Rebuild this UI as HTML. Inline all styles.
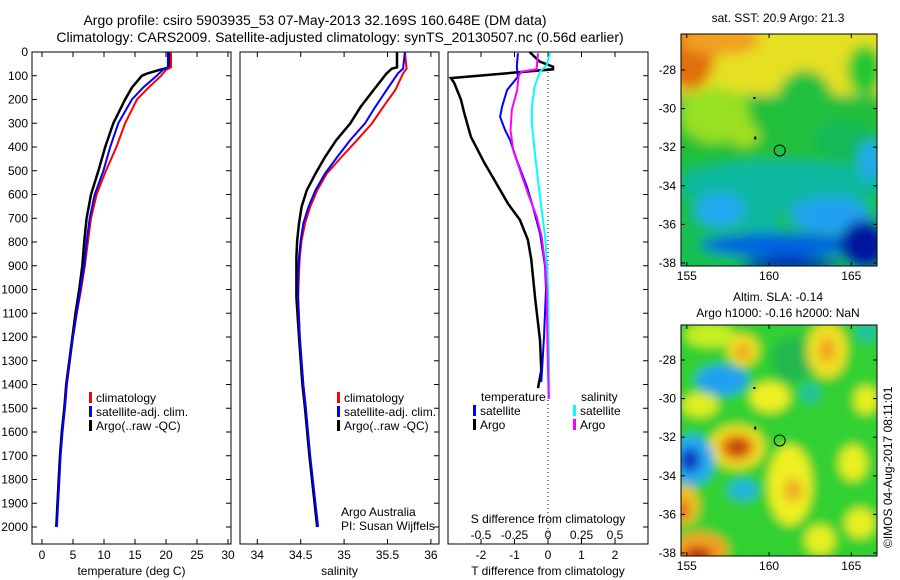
<!DOCTYPE html>
<html><head><meta charset="utf-8"><style>
html,body{margin:0;padding:0;background:#fff}
svg{display:block;font-family:"Liberation Sans",sans-serif}
</style></head><body>
<svg id="fig" width="900" height="580" viewBox="0 0 900 580">
<defs>
<filter id="blur1" x="-20%" y="-20%" width="140%" height="140%"><feGaussianBlur stdDeviation="6"/></filter>
<filter id="blur2" x="-20%" y="-20%" width="140%" height="140%"><feGaussianBlur stdDeviation="5"/></filter>
<clipPath id="clipM1"><rect x="681" y="34" width="196" height="232"/></clipPath>
<clipPath id="clipM2"><rect x="681" y="325" width="196" height="231"/></clipPath>
</defs>
<text x="315" y="25" text-anchor="middle" font-size="14">Argo profile: csiro 5903935_53 07-May-2013 32.169S 160.648E (DM data)</text>
<text x="340" y="42" text-anchor="middle" font-size="14">Climatology: CARS2009. Satellite-adjusted climatology: synTS_20130507.nc (0.56d earlier)</text>

<!-- SST map -->
<g>
<g clip-path="url(#clipM1)"><g filter="url(#blur1)">
<rect x="670" y="20" width="220" height="260" fill="#18c050"/>
<rect x="670" y="100" width="220" height="60" fill="#20c038"/>
<rect x="670" y="20" width="220" height="75" fill="#e6e020"/>
<ellipse cx="690" cy="50" rx="25" ry="40" fill="#e07010"/>
<ellipse cx="720" cy="40" rx="40" ry="15" fill="#f0a020"/>
<ellipse cx="715" cy="115" rx="35" ry="28" fill="#98e020"/>
<ellipse cx="745" cy="135" rx="15" ry="12" fill="#a0e020"/>
<ellipse cx="805" cy="110" rx="30" ry="40" fill="#20c040"/>
<ellipse cx="865" cy="70" rx="18" ry="25" fill="#20c830"/>
<ellipse cx="845" cy="140" rx="30" ry="20" fill="#18b858"/>
<ellipse cx="780" cy="185" rx="100" ry="25" fill="#10b8a0"/>
<ellipse cx="870" cy="160" rx="12" ry="20" fill="#20a8f0"/>
<ellipse cx="720" cy="210" rx="25" ry="18" fill="#20a8f0"/>
<ellipse cx="830" cy="215" rx="40" ry="18" fill="#20a0f0"/>
<ellipse cx="760" cy="220" rx="20" ry="15" fill="#10b8a0"/>
<ellipse cx="780" cy="245" rx="80" ry="12" fill="#0060e0"/>
<ellipse cx="865" cy="245" rx="25" ry="25" fill="#0018a0"/>
<ellipse cx="790" cy="265" rx="50" ry="8" fill="#0020a8"/>
</g></g>
<rect x="681" y="34" width="196" height="232" fill="none" stroke="#000"/>
</g>
<text x="778" y="22" text-anchor="middle" font-size="12">sat. SST: 20.9 Argo: 21.3</text>

<!-- SLA map -->
<g>
<g clip-path="url(#clipM2)"><g filter="url(#blur2)">
<rect x="670" y="310" width="220" height="260" fill="#30d030"/>
<ellipse cx="710" cy="335" rx="25" ry="12" fill="#c8f020"/>
<ellipse cx="743" cy="350" rx="16" ry="16" fill="#f0e020"/>
<ellipse cx="743" cy="352" rx="8" ry="8" fill="#f0a020"/>
<ellipse cx="722" cy="380" rx="26" ry="15" fill="#20a0f0"/>
<ellipse cx="793" cy="360" rx="22" ry="22" fill="#20b850"/>
<ellipse cx="810" cy="393" rx="10" ry="10" fill="#20c0a0"/>
<ellipse cx="867" cy="332" rx="12" ry="10" fill="#20c0a0"/>
<ellipse cx="770" cy="397" rx="20" ry="15" fill="#f0f020"/>
<ellipse cx="827" cy="350" rx="20" ry="28" fill="#f0e020"/>
<ellipse cx="827" cy="350" rx="8" ry="12" fill="#f0a020"/>
<ellipse cx="700" cy="405" rx="18" ry="12" fill="#e0f020"/>
<ellipse cx="737" cy="447" rx="28" ry="22" fill="#f0e020"/>
<ellipse cx="737" cy="447" rx="17" ry="13" fill="#e07010"/>
<ellipse cx="738" cy="448" rx="8" ry="7" fill="#c03010"/>
<ellipse cx="692" cy="460" rx="22" ry="25" fill="#20a8f0"/>
<ellipse cx="690" cy="460" rx="10" ry="12" fill="#1030c0"/>
<ellipse cx="743" cy="490" rx="15" ry="10" fill="#20b0e0"/>
<ellipse cx="790" cy="485" rx="22" ry="40" fill="#f0f020"/>
<ellipse cx="793" cy="490" rx="10" ry="12" fill="#f0b020"/>
<ellipse cx="853" cy="463" rx="14" ry="18" fill="#e8f020"/>
<ellipse cx="866" cy="400" rx="12" ry="14" fill="#e8f020"/>
<ellipse cx="685" cy="505" rx="14" ry="20" fill="#f0c020"/>
<ellipse cx="683" cy="510" rx="6" ry="10" fill="#e06010"/>
<ellipse cx="700" cy="550" rx="28" ry="18" fill="#f0a020"/>
<ellipse cx="698" cy="555" rx="15" ry="8" fill="#c02010"/>
<ellipse cx="860" cy="523" rx="15" ry="15" fill="#e8f020"/>
<ellipse cx="820" cy="540" rx="15" ry="15" fill="#e8f020"/>
</g></g>
<rect x="681" y="325" width="196" height="231" fill="none" stroke="#000"/>
</g>
<text x="778" y="301" text-anchor="middle" font-size="12">Altim. SLA: -0.14</text>
<text x="778" y="317" text-anchor="middle" font-size="12">Argo h1000: -0.16 h2000: NaN</text>
<text transform="translate(892,548) rotate(-90)" font-size="12">©IMOS 04-Aug-2017 08:11:01</text>

<g id="plots"></g>
</svg>
<script>
// ---- data ----
var depthTicks = [0,100,200,300,400,500,600,700,800,900,1000,1100,1200,1300,1400,1500,1600,1700,1800,1900,2000];
var tempTicks = [0,5,10,15,20,25,30];
var salTicks = [34,34.5,35,35.5,36];
var salTickLabels = ["34","34.5","35","35.5","36"];
var dTTicks = [-2,-1,0,1,2];
var dSTicks = [-0.5,-0.25,0,0.25,0.5];
var dSTickLabels = ["-0.5","-0.25","0","0.25","0.5"];
var latTicks = [-28,-30,-32,-34,-36,-38];
var lonTicks = [155,160,165];
var argoLon = 160.648, argoLat = -32.169;

var climTDepth = [0,65,75,100,150,200,300,400,500,600,700,800,900,1000,1100,1200,1300,1400,1500];
var climT = [20.8,20.8,20.0,19.2,17.2,15.3,13.4,12.0,10.3,8.8,7.9,7.4,6.9,6.3,5.6,5.0,4.5,4.0,3.7];
var satTDepth = [0,65,75,100,150,200,300,400,500,600,700,800,900,1000,1100,1200,1300,1400,1500,1600,1700,1800,1900,2000];
var satT = [20.3,20.3,19.5,18.5,16.3,14.5,12.3,11.0,9.9,8.5,7.7,7.2,6.8,6.2,5.6,5.0,4.5,4.0,3.7,3.3,3.0,2.8,2.6,2.4];
var argoTDepth = [0,65,75,90,100,150,200,300,400,500,600,700,800,900,1000,1100,1200,1300,1400,1500,1600,1700,1800,1900,2000];
var argoT = [20.5,20.5,19.0,17.0,16.1,14.5,13.4,11.5,10.2,9.1,7.9,7.2,6.8,6.5,6.0,5.4,4.9,4.4,3.9,3.6,3.2,2.9,2.7,2.5,2.3];

var climSDepth = [0,70,90,160,231,301,371,442,512,582,652,722,793,863,933,1032,1200,1400,1500];
var climS = [35.70,35.72,35.68,35.59,35.45,35.32,35.15,34.97,34.80,34.69,34.61,34.55,34.51,34.49,34.48,34.47,34.49,34.53,34.56];
var satSDepth = [0,70,90,160,231,301,371,442,512,582,652,722,793,863,933,1032,1200,1400,1500,1700,2000];
var satS = [35.70,35.68,35.62,35.49,35.36,35.24,35.07,34.92,34.78,34.67,34.59,34.53,34.50,34.48,34.47,34.47,34.49,34.53,34.56,34.61,34.70];
var argoSDepth = [0,65,70,90,160,231,301,371,442,512,582,652,722,793,863,933,1032,1200,1400,1500,1700,2000];
var argoS = [35.61,35.61,35.55,35.49,35.34,35.19,35.07,34.91,34.78,34.67,34.57,34.51,34.48,34.46,34.45,34.45,34.45,34.48,34.52,34.55,34.60,34.69];

var dTArgoDepth = [0,40,62,73,110,130,200,258,357,467,539,637,707,791,875,1044,1213,1340,1415];
var dTArgo = [-0.55,-0.25,0.15,0.15,-2.9,-2.8,-2.6,-2.5,-2.3,-1.9,-1.6,-1.2,-0.84,-0.6,-0.5,-0.38,-0.24,-0.2,-0.3];
var dTSatDepth = [5,63,104,160,230,273,329,371,455,567,652,764,900,1000,1200,1390];
var dTSat = [-0.9,-0.93,-0.9,-1.22,-1.37,-1.43,-1.28,-1.13,-0.93,-0.63,-0.45,-0.24,-0.09,-0.06,-0.12,-0.2];
var dSArgoDepth = [5,73,83,104,160,244,329,413,497,595,693,778,900,1000,1200,1460];
var dSArgo = [-0.075,-0.085,-0.2,-0.22,-0.23,-0.27,-0.28,-0.26,-0.21,-0.15,-0.085,-0.047,-0.02,-0.01,-0.005,0.005];
var dSSatDepth = [5,55,83,146,230,301,413,540,666,778,900,1000,1400,1460];
var dSSat = [0.015,-0.01,-0.06,-0.1,-0.12,-0.12,-0.1,-0.075,-0.047,-0.022,-0.007,0,0.01,0.01];

// ---- axes ----
var NS = "http://www.w3.org/2000/svg";
var root = document.getElementById('plots');
var TOP = 52, BOT = 544;
function yD(d){ return TOP + d*0.2375; }
function xT(t){ return 42 + t*6.2; }
function xS(s){ return 257.3 + (s-34)*86.8; }
function xDT(t){ return 548 + t*33.5; }
function xDS(s){ return 548 + s*134; }
function mk(tag, attrs, parent){
  var e = document.createElementNS(NS, tag);
  for (var k in attrs) e.setAttribute(k, attrs[k]);
  (parent||root).appendChild(e); return e;
}
function txt(x,y,s,anchor,size,parent){
  var e = mk('text',{x:x,y:y,'text-anchor':anchor||'middle','font-size':size||12},parent);
  e.textContent = s; return e;
}
function line(xs, ds, fx, color, w, name){
  var p = '';
  for (var i=0;i<xs.length;i++) p += (i?'L':'M') + fx(xs[i]).toFixed(1) + ',' + yD(ds[i]).toFixed(1);
  var e = mk('path',{d:p,fill:'none',stroke:color,'stroke-width':w,'stroke-linejoin':'miter'});
  
  
  return e;
}
var panels = [[32,231],[240,439],[448,648]];
panels.forEach(function(p, i){
  var r = mk('rect',{x:p[0],y:TOP,width:p[1]-p[0],height:BOT-TOP,fill:'none',stroke:'#000','stroke-width':1});
  
  
  depthTicks.forEach(function(d){
    if (i===0) { mk('line',{x1:p[0],x2:p[0]+5,y1:yD(d),y2:yD(d),stroke:'#000'}); }
    mk('line',{x1:p[1]-5,x2:p[1],y1:yD(d),y2:yD(d),stroke:'#000'});
  });
});
depthTicks.forEach(function(d){
  var t = txt(28, yD(d)+4, String(d), 'end', 12);
  
  
});
tempTicks.forEach(function(v){
  mk('line',{x1:xT(v),x2:xT(v),y1:BOT,y2:BOT-5,stroke:'#000'});
  mk('line',{x1:xT(v),x2:xT(v),y1:TOP,y2:TOP+5,stroke:'#000'});
  var t = txt(xT(v), 559, String(v));
  
  
});
salTicks.forEach(function(v,i){
  mk('line',{x1:xS(v),x2:xS(v),y1:BOT,y2:BOT-5,stroke:'#000'});
  mk('line',{x1:xS(v),x2:xS(v),y1:TOP,y2:TOP+5,stroke:'#000'});
  var t = txt(xS(v), 559, salTickLabels[i]);
  
  
});
dTTicks.forEach(function(v){
  mk('line',{x1:xDT(v),x2:xDT(v),y1:BOT,y2:BOT-5,stroke:'#000'});
  mk('line',{x1:xDT(v),x2:xDT(v),y1:TOP,y2:TOP+5,stroke:'#000'});
  var t = txt(xDT(v), 559, String(v));
  
  
});
dSTicks.forEach(function(v,i){
  var t = txt(xDS(v), 539, dSTickLabels[i]);
  
  
});
var lab;
lab = txt(131.5, 575, 'temperature (deg C)');  
lab = txt(339.5, 575, 'salinity');  
lab = txt(548, 575, 'T difference from climatology');  
lab = txt(548, 523, 'S difference from climatology');  
lab = txt(341, 516, 'Argo Australia', 'start');  
lab = txt(341, 530, 'PI: Susan Wijffels', 'start');  

// zero line
var z = mk('line',{x1:xDT(0),x2:xDT(0),y1:TOP,y2:BOT,stroke:'#000','stroke-dasharray':'1,3'});



// series
line(argoT, argoTDepth, xT, '#000', 2.5, 'argo-temperature-line');
line(climT, climTDepth, xT, '#f00', 2, 'climatology-temperature-line');
line(satT, satTDepth, xT, '#00f', 2, 'satellite-temperature-line');
line(argoS, argoSDepth, xS, '#000', 2.5, 'argo-salinity-line');
line(climS, climSDepth, xS, '#f00', 2, 'climatology-salinity-line');
line(satS, satSDepth, xS, '#00f', 2, 'satellite-salinity-line');
line(dTArgo, dTArgoDepth, xDT, '#000', 2.5, 'argo-t-diff-line');
line(dTSat, dTSatDepth, xDT, '#00f', 2, 'satellite-t-diff-line');
line(dSSat, dSSatDepth, xDS, '#0ff', 2, 'satellite-s-diff-line');
line(dSArgo, dSArgoDepth, xDS, '#f0f', 2, 'argo-s-diff-line');

// legends
function legend(x, y, color, label, name){
  var r = mk('rect',{x:x,y:y-10,width:3,height:11,fill:color});
  
  
  var t = txt(x+7, y, label, 'start');
  
  
}
legend(89, 402, '#f00', 'climatology', 'legend-climatology-t');
legend(89, 416, '#00f', 'satellite-adj. clim.', 'legend-satellite-t');
legend(89, 430, '#000', 'Argo(..raw -QC)', 'legend-argo-t');
legend(337, 402, '#f00', 'climatology', 'legend-climatology-s');
legend(337, 416, '#00f', 'satellite-adj. clim.', 'legend-satellite-s');
legend(337, 430, '#000', 'Argo(..raw -QC)', 'legend-argo-s');
lab = txt(481, 401, 'temperature', 'start');  
lab = txt(581, 401, 'salinity', 'start');  
legend(473, 415, '#00f', 'satellite', 'legend-t-satellite');
legend(473, 429, '#000', 'Argo', 'legend-t-argo');
legend(573, 415, '#0ff', 'satellite', 'legend-s-satellite');
legend(573, 429, '#f0f', 'Argo', 'legend-s-argo');

// maps
var maps = [{top:34,bot:266,lat28:70,name:'sst'},{top:325,bot:556,lat28:360,name:'sla'}];
function xLon(l){ return 686.8 + (l-155)*16.45; }
maps.forEach(function(m){
  function yLat(la){ return m.lat28 + (-28 - la)*19.3; }
  latTicks.forEach(function(la){
    var y = yLat(la);
    mk('line',{x1:681,x2:685,y1:y,y2:y,stroke:'#000'});
    mk('line',{x1:873,x2:877,y1:y,y2:y,stroke:'#000'});
    var t = txt(676, y+4, String(la), 'end');
    
    
  });
  lonTicks.forEach(function(lo){
    var x = xLon(lo);
    mk('line',{x1:x,x2:x,y1:m.bot,y2:m.bot-4,stroke:'#000'});
    mk('line',{x1:x,x2:x,y1:m.top,y2:m.top+4,stroke:'#000'});
    var t = txt(x, m.bot+14, String(lo));
    
    
  });
  var c = mk('circle',{cx:xLon(argoLon),cy:yLat(argoLat),r:5.5,fill:'none',stroke:'#000'});
  
  
  mk('rect',{x:xLon(159.05),y:yLat(-29.45)-1,width:2,height:2,fill:'#000'});
  mk('rect',{x:xLon(159.1),y:yLat(-31.5)-1,width:2,height:3,fill:'#000'});
});
</script>
</body></html>
